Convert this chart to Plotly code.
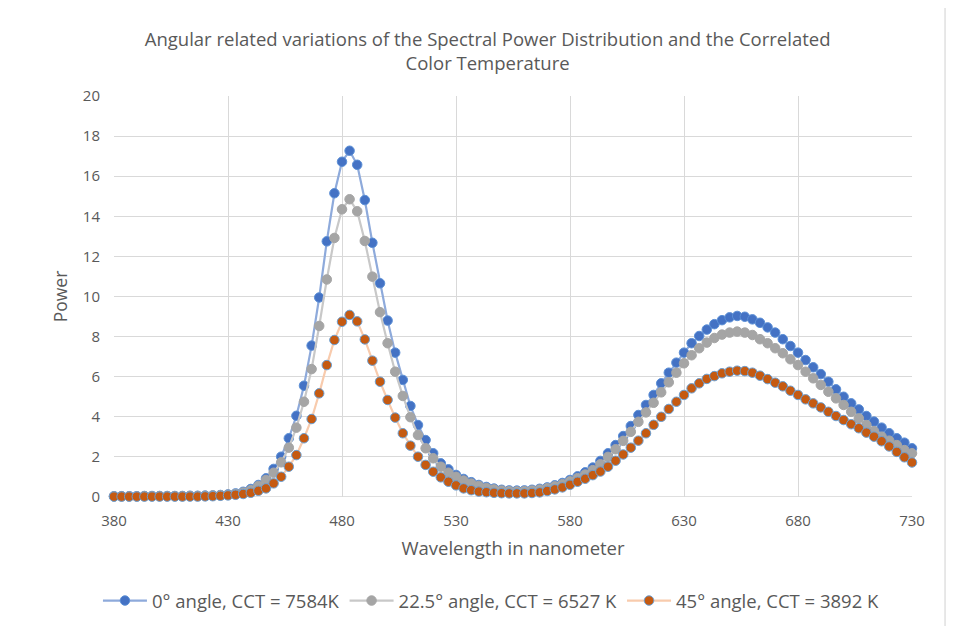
import plotly.graph_objects as go

# Wavelength categories (nm), 380..730 in 10/3 nm steps
wavelength = [round(380 + i * 10 / 3, 2) for i in range(106)]

power_0deg = [0.04, 0.04, 0.04, 0.04, 0.05, 0.05, 0.05, 0.05, 0.05, 0.05, 0.06, 0.06,
              0.07, 0.08, 0.10, 0.13, 0.18, 0.26, 0.40, 0.60, 0.93, 1.40, 2.01, 2.93,
              4.05, 5.55, 7.55, 9.95, 12.75, 15.15, 16.72, 17.27, 16.57, 14.81, 12.68, 10.66,
              8.80, 7.20, 5.84, 4.54, 3.59, 2.84, 2.18, 1.68, 1.38, 1.10, 0.90, 0.74,
              0.60, 0.50, 0.42, 0.36, 0.33, 0.32, 0.33, 0.36, 0.41, 0.48, 0.58, 0.70,
              0.85, 1.03, 1.23, 1.47, 1.80, 2.18, 2.59, 3.04, 3.54, 4.09, 4.59, 5.09,
              5.67, 6.20, 6.70, 7.20, 7.67, 8.03, 8.35, 8.62, 8.82, 8.96, 9.03, 8.99,
              8.86, 8.69, 8.46, 8.20, 7.87, 7.53, 7.20, 6.83, 6.47, 6.13, 5.75, 5.37,
              5.00, 4.67, 4.37, 4.04, 3.76, 3.46, 3.18, 2.93, 2.71, 2.43]

power_22deg = [0.03, 0.03, 0.03, 0.03, 0.04, 0.04, 0.04, 0.04, 0.04, 0.04, 0.05, 0.05,
               0.06, 0.07, 0.09, 0.11, 0.15, 0.22, 0.34, 0.55, 0.85, 1.21, 1.73, 2.46,
               3.46, 4.75, 6.38, 8.53, 10.85, 12.92, 14.35, 14.85, 14.25, 12.77, 10.99, 9.22,
               7.67, 6.25, 5.04, 3.98, 3.09, 2.43, 1.93, 1.51, 1.21, 1.01, 0.82, 0.67,
               0.55, 0.45, 0.38, 0.32, 0.29, 0.28, 0.29, 0.32, 0.37, 0.44, 0.53, 0.64,
               0.78, 0.94, 1.12, 1.34, 1.63, 2.00, 2.38, 2.80, 3.25, 3.75, 4.22, 4.70,
               5.22, 5.72, 6.20, 6.67, 7.07, 7.42, 7.70, 7.93, 8.10, 8.20, 8.25, 8.20,
               8.08, 7.87, 7.67, 7.42, 7.17, 6.87, 6.58, 6.25, 5.92, 5.59, 5.25, 4.92,
               4.59, 4.25, 3.92, 3.59, 3.29, 3.01, 2.81, 2.59, 2.34, 2.18]

power_45deg = [0.02, 0.02, 0.02, 0.02, 0.02, 0.02, 0.02, 0.02, 0.02, 0.02, 0.02, 0.02,
               0.03, 0.04, 0.06, 0.08, 0.11, 0.15, 0.21, 0.31, 0.43, 0.68, 1.01, 1.51,
               2.09, 2.93, 3.89, 5.17, 6.58, 7.83, 8.74, 9.08, 8.76, 7.86, 6.80, 5.75,
               4.84, 3.96, 3.18, 2.56, 2.01, 1.60, 1.26, 0.98, 0.76, 0.58, 0.43, 0.34,
               0.27, 0.24, 0.21, 0.19, 0.18, 0.18, 0.18, 0.20, 0.23, 0.30, 0.38, 0.48,
               0.61, 0.76, 0.91, 1.09, 1.27, 1.51, 1.81, 2.12, 2.46, 2.81, 3.18, 3.60,
               4.00, 4.39, 4.75, 5.09, 5.42, 5.67, 5.89, 6.03, 6.17, 6.25, 6.30, 6.28,
               6.20, 6.05, 5.88, 5.70, 5.52, 5.30, 5.09, 4.87, 4.67, 4.47, 4.25, 4.04,
               3.84, 3.63, 3.43, 3.21, 3.01, 2.78, 2.52, 2.25, 1.98, 1.72]

series_names = ["0° angle, CCT = 7584K", "22.5° angle, CCT = 6527 K", "45° angle, CCT = 3892 K"]
x_ticks = [380, 430, 480, 530, 580, 630, 680, 730]
y_ticks = list(range(0, 21, 2))

FONT = "'Open Sans', Lato, sans-serif"
TXT = "#595959"

styles = [
    dict(line="#8eaadb", fill="#4472c4", edge="#5b8fd6"),
    dict(line="#c8c8c8", fill="#a5a5a5", edge="#a5a5a5"),
    dict(line="#f8cbad", fill="#c55a11", edge="#6a9fd4"),
]

fig = go.Figure()
for name, vals, st in zip(series_names, [power_0deg, power_22deg, power_45deg], styles):
    fig.add_trace(go.Scatter(
        x=wavelength, y=vals, name=name, mode="lines+markers",
        line=dict(color=st["line"], width=2.2),
        marker=dict(size=9.5, color=st["fill"], line=dict(color=st["edge"], width=1)),
        cliponaxis=False,
    ))

fig.update_layout(
    width=967, height=626,
    paper_bgcolor="white", plot_bgcolor="white",
    margin=dict(l=106, r=63, t=88, b=137, autoexpand=False),
    font=dict(family=FONT, color=TXT, size=15),
    title=dict(
        text="Angular related variations of the Spectral Power Distribution and the Correlated<br>Color Temperature",
        x=0.496, xanchor="center", y=0.94, yanchor="top",
        font=dict(family=FONT, size=18.5, color=TXT),
    ),
    xaxis=dict(
        range=[380, 730], tickvals=x_ticks, ticktext=[str(t) for t in x_ticks],
        showgrid=True, gridcolor="#d9d9d9", gridwidth=1,
        zeroline=False, showline=False,
        ticks="outside", ticklen=10, tickcolor="rgba(0,0,0,0)",
        tickfont=dict(size=15, color=TXT), automargin=False,
        title=dict(text="Wavelength in nanometer", font=dict(size=18.5, color=TXT), standoff=13),
    ),
    yaxis=dict(
        range=[0, 20], tickvals=y_ticks,
        showgrid=True, gridcolor="#d9d9d9", gridwidth=1,
        zeroline=False, showline=False,
        ticks="outside", ticklen=10, tickcolor="rgba(0,0,0,0)",
        tickfont=dict(size=15, color=TXT), automargin=False,
        title=dict(text="Power", font=dict(size=17.5, color=TXT), standoff=10),
    ),
    legend=dict(
        orientation="h", x=0.473, xanchor="center", y=-0.212, yanchor="top",
        font=dict(size=18.5, color=TXT), itemwidth=44, traceorder="normal",
    ),
    showlegend=True,
)

# bottom axis line
fig.add_shape(type="line", xref="x", yref="y", x0=380, x1=730, y0=0, y1=0,
              line=dict(color="#bfbfbf", width=1), layer="below")
# chart-area border on the right
fig.add_shape(type="line", xref="paper", yref="paper", x0=1.0414, x1=1.0414, y0=-0.35, y1=1.25,
              line=dict(color="#d0d0d0", width=1))

fig.write_html("out.html")
